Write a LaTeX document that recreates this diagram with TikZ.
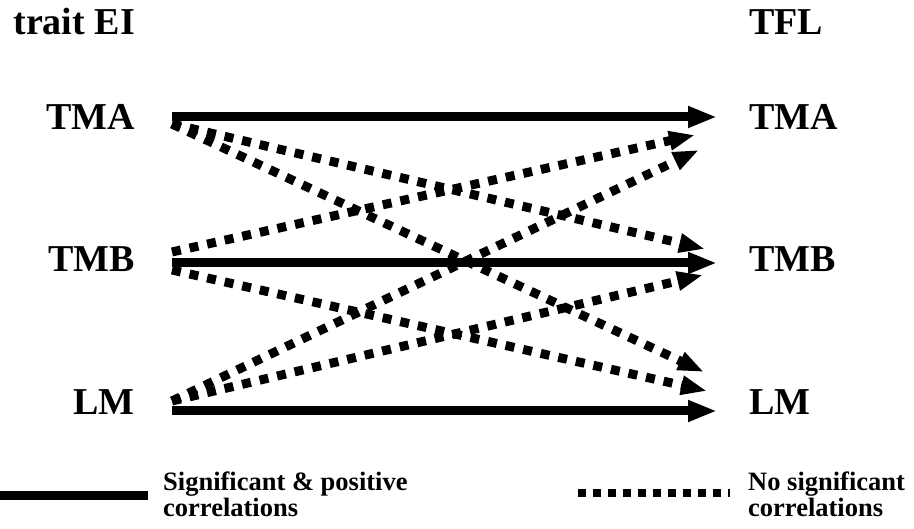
\documentclass[tikz,border=0pt]{standalone}
\usepackage{fontspec}
\setmainfont{Liberation Serif}
\usetikzlibrary{arrows.meta}

\begin{document}
\begin{tikzpicture}[x=1pt,y=-1pt,
  lbl/.style={font=\fontsize{38}{40}\selectfont\bfseries,inner sep=0pt},
  legtext/.style={font=\fontsize{26.5}{26.5}\selectfont\bfseries,inner sep=0pt,align=left},
  sig/.style={line width=9pt,-{Triangle[length=29pt,width=20pt]}},
  nosig/.style={line width=9pt,dash pattern=on 9pt off 9pt,-{Triangle[length=26pt,width=18pt]}}]
  \useasboundingbox (0,0) rectangle (914,529);
  % column headings and labels
  \node[lbl,anchor=base east] (ei) at (135,35) {trait EI};
  \node[lbl,anchor=base west] (tfl) at (749,35) {TFL};
  \node[lbl,anchor=base east] (eiTMA) at (135,130) {TMA};
  \node[lbl,anchor=base east] (eiTMB) at (135,272) {TMB};
  \node[lbl,anchor=base east] (eiLM) at (135,415) {LM};
  \node[lbl,anchor=base west] (tflTMA) at (749,130) {TMA};
  \node[lbl,anchor=base west] (tflTMB) at (749,272) {TMB};
  \node[lbl,anchor=base west] (tflLM) at (749,415) {LM};
  % arrow ends
  \coordinate (aTMA) at (172,117);
  \coordinate (aTMB) at (172,263);
  \coordinate (aLM) at (172,411);
  \coordinate (bTMA) at (717,117);
  \coordinate (bTMB) at (717,263);
  \coordinate (bLM) at (717,411);
  \coordinate (dTMA) at (172,124);
  \coordinate (dTMBup) at (172,252);
  \coordinate (dTMBdn) at (172,270);
  \coordinate (dLM) at (172,401);
  \coordinate (eTMAa) at (695,135);
  \coordinate (eTMAb) at (699,150);
  \coordinate (eTMBa) at (705,249);
  \coordinate (eTMBb) at (703,275);
  \coordinate (eLMa) at (704,372);
  \coordinate (eLMb) at (707,391);
  % significant
  \draw[sig] (aTMA) -- (bTMA);
  \draw[sig] (aTMB) -- (bTMB);
  \draw[sig] (aLM) -- (bLM);
  % not significant
  \draw[nosig] (dTMA) -- (eTMBa);
  \draw[nosig] (dTMA) -- (eLMa);
  \draw[nosig] (dTMBup) -- (eTMAa);
  \draw[nosig] (dTMBdn) -- (eLMb);
  \draw[nosig] (dLM) -- (eTMAb);
  \draw[nosig] (dLM) -- (eTMBb);
  % legend
  \coordinate (s1) at (0,496);
  \coordinate (s2) at (148,496);
  \coordinate (n1) at (578,493);
  \coordinate (n2) at (730,493);
  \draw[line width=9pt] (s1) -- (s2);
  \draw[line width=8pt,dash pattern=on 8pt off 7pt] (n1) -- (n2);
  \node[legtext,anchor=base west] (legsig) at (163,490) {Significant \& positive};
  \node[legtext,anchor=base west] (legsig2) at (163,516) {correlations};
  \node[legtext,anchor=base west] (legno) at (748,490) {No significant};
  \node[legtext,anchor=base west] (legno2) at (748,516) {correlations};
\end{tikzpicture}
\end{document}
